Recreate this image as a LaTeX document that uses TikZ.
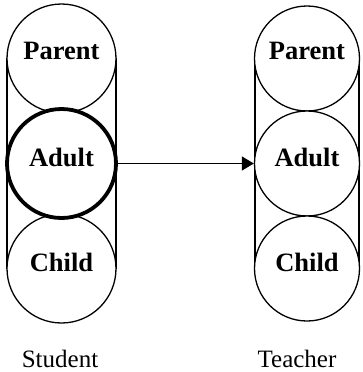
\documentclass[tikz,border=0pt]{standalone}
\usepackage{fontspec}
\setmainfont{Liberation Serif}
\usetikzlibrary{arrows.meta}
\newcommand{\uplabel}[2]{\raisebox{#1}[\height][\depth]{#2}}
\begin{document}
\begin{tikzpicture}[x=1pt,y=-1pt,
  state/.style={circle,draw,fill=white,line width=1.3pt,inner sep=0pt,
    font=\fontsize{26.5}{30}\selectfont\bfseries},
  lstate/.style={state,minimum size=109pt},
  rstate/.style={state,minimum size=105pt},
  column/.style={draw,line width=1.3pt},
  caption/.style={font=\fontsize{25}{28}\selectfont,anchor=base}]
\useasboundingbox (0,0) rectangle (362,372);
% Student column
\draw[column] (7,58.5) rectangle (116,268.5);
\node[lstate] (sp) at (61.5,58.5) {\uplabel{8pt}{Parent}};
\node[lstate] (sc) at (61.5,268.5) {\uplabel{6pt}{Child}};
\node[lstate,line width=3.8pt] (sa) at (61.5,163.5) {\uplabel{6pt}{Adult}};
% Teacher column
\draw[column] (255,58.5) rectangle (359,268.5);
\node[rstate] (tp) at (307,58.5) {\uplabel{8pt}{Parent}};
\node[rstate] (ta) at (307,163.5) {\uplabel{6pt}{Adult}};
\node[rstate] (tc) at (307,268.5) {\uplabel{6pt}{Child}};
% transaction
\draw[line width=1.3pt,-{Triangle[length=12pt,width=14pt]}] (sa.east) -- (ta.west);
\node[caption] (st) at (60,367) {Student};
\node[caption] (te) at (297,367) {Teacher};
\end{tikzpicture}
\end{document}
